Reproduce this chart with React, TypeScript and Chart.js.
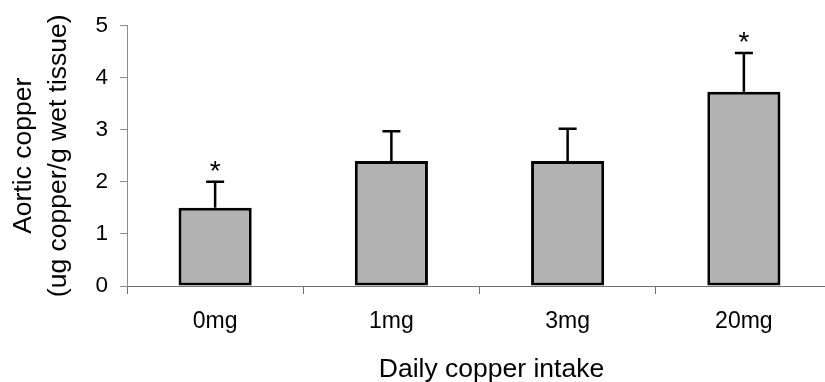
import React, { useEffect, useRef } from "react";
import { Chart, registerables } from "chart.js";

Chart.register(...registerables);

const categories = ["0mg", "1mg", "3mg", "20mg"];
const means = [1.5, 2.4, 2.4, 3.73];
const errors = [0.5, 0.57, 0.62, 0.74];
const significance = ["*", "", "", "*"];
const yTitle = ["Aortic copper", "(ug copper/g wet tissue)"];
const xTitle = "Daily copper intake";

const FONT = "'Liberation Sans', Arial, sans-serif";

const errorBarPlugin = {
  id: "errorBars",
  afterDatasetsDraw(chart: any) {
    const { ctx } = chart;
    const meta = chart.getDatasetMeta(0);
    const yScale = chart.scales.y;
    ctx.save();
    ctx.strokeStyle = "#000";
    ctx.fillStyle = "#000";
    ctx.lineWidth = 2.5;
    meta.data.forEach((bar: any, i: number) => {
      const x = bar.x;
      const yTop = yScale.getPixelForValue(means[i]);
      const yErr = yScale.getPixelForValue(means[i] + errors[i]);
      ctx.beginPath();
      ctx.moveTo(x, yTop);
      ctx.lineTo(x, yErr);
      ctx.moveTo(x - 9, yErr);
      ctx.lineTo(x + 9, yErr);
      ctx.stroke();
      if (significance[i]) {
        ctx.font = `28px ${FONT}`;
        ctx.textAlign = "center";
        ctx.textBaseline = "alphabetic";
        ctx.fillText(significance[i], x, yErr - 2);
      }
    });
    ctx.restore();
  },
};

const xTitlePlugin = {
  id: "xTitle",
  afterDraw(chart: any) {
    const { ctx, chartArea } = chart;
    ctx.save();
    ctx.fillStyle = "#000";
    ctx.font = `26.5px ${FONT}`;
    ctx.textAlign = "center";
    ctx.textBaseline = "alphabetic";
    const cx = (chartArea.left + chartArea.right) / 2 + 12;
    ctx.fillText(xTitle, cx, chart.height - 5);
    ctx.restore();
  },
};

export default function App() {
  const ref = useRef<HTMLCanvasElement | null>(null);
  useEffect(() => {
    if (!ref.current) return;
    const chart = new Chart(ref.current, {
      type: "bar",
      data: {
        labels: categories,
        datasets: [
          {
            data: means,
            backgroundColor: "#b2b2b2",
            borderColor: "#000",
            borderWidth: 3,
            borderSkipped: false,
            barPercentage: 0.415,
            categoryPercentage: 1,
          },
        ],
      },
      options: {
        animation: false,
        responsive: false,
        devicePixelRatio: 1,
        layout: { padding: { top: 22, right: 8, left: 0, bottom: 0 } },
        plugins: { legend: { display: false }, tooltip: { enabled: false } },
        scales: {
          x: {
            offset: true,
            grid: { offset: true, drawOnChartArea: false, drawTicks: true, tickLength: 8, color: "#707070" },
            border: { color: "#707070", width: 1 },
            ticks: { color: "#000", font: { family: FONT, size: 23 }, padding: 14, maxRotation: 0 },
            afterFit(scale: any) {
              scale.height = 96;
            },
          },
          y: {
            min: 0,
            max: 5,
            ticks: { stepSize: 1, color: "#000", font: { family: FONT, size: 22.5 }, padding: 12 },
            grid: { drawOnChartArea: false, drawTicks: true, tickLength: 7, color: "#8c8c8c" },
            border: { color: "#8c8c8c", width: 1 },
            title: {
              display: true,
              text: yTitle,
              color: "#000",
              font: { family: FONT, size: 26.5, lineHeight: 1.32 },
              padding: { top: 6, bottom: 0 },
            },
            afterFit(scale: any) {
              scale.width = 127;
            },
          },
        },
      },
      plugins: [errorBarPlugin, xTitlePlugin],
    });
    return () => chart.destroy();
  }, []);
  return (
    <div style={{ position: "fixed", left: 0, top: 0, width: 825, height: 382, overflow: "hidden", background: "#fff" }}>
      <canvas ref={ref} width={840} height={382} style={{ display: "block" }} />
    </div>
  );
}
